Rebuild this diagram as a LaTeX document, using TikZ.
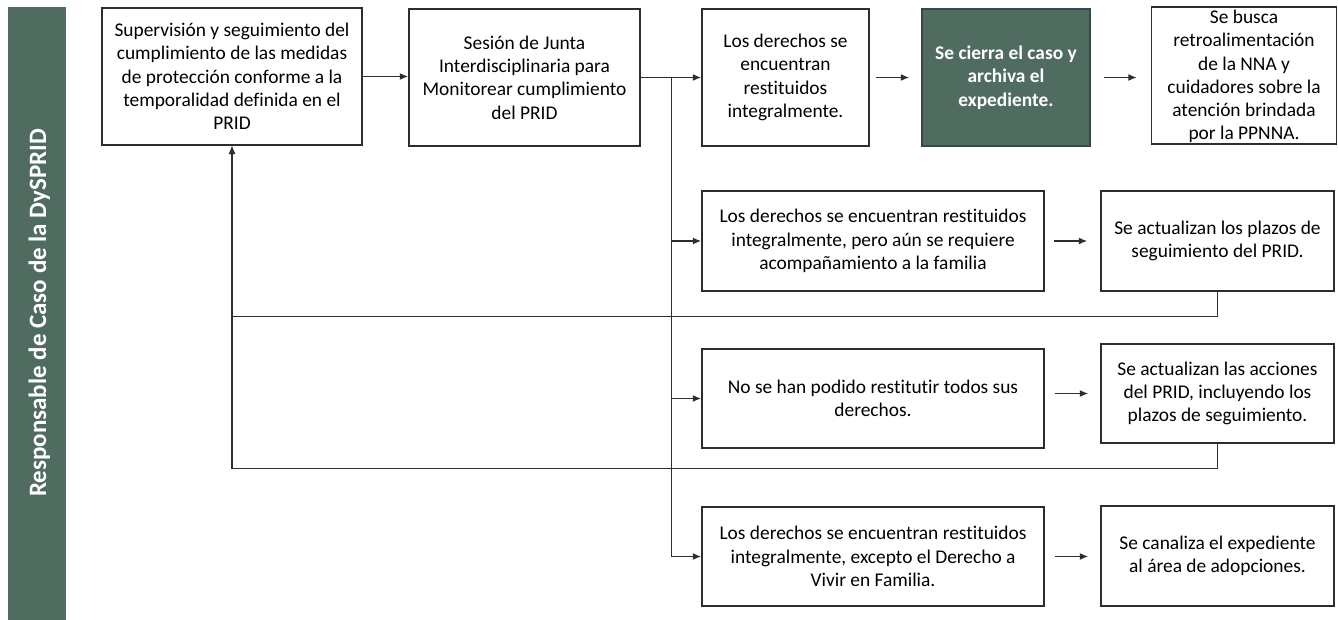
\documentclass[tikz,border=0pt]{standalone}
\usepackage{fontspec}
\setmainfont{Carlito}[Ligatures=NoCommon]
\usetikzlibrary{arrows.meta,calc}
\definecolor{dgreen}{RGB}{80,107,95}
\definecolor{edgec}{RGB}{45,45,45}
\definecolor{darkedge}{RGB}{55,70,80}
\begin{document}
\begin{tikzpicture}[x=1pt,y=-1pt,
  box/.style={draw=edgec,line width=1.4pt,inner sep=0pt,align=center,fill=white,
    font=\fontsize{19.4}{23.3}\selectfont},
  plaintext/.style={inner sep=0pt,align=center,font=\fontsize{19.4}{23.3}\selectfont},
  conn/.style={draw=edgec,line width=1.5pt},
  arr/.style={conn,-{Latex[length=8.5pt,width=7pt]}}]
\useasboundingbox (0,0) rectangle (1338,620);
% lane bar
\fill[dgreen] (8,7) rectangle (66,620);
\node[rotate=90,anchor=base,text=white,inner sep=0pt,
  font=\fontsize{25}{30}\selectfont\bfseries] (lane) at (46,313)
  {Responsable de Caso de la DySPRID};
% boxes
\node[box,minimum width=260pt,minimum height=137pt] (b1) at (232,76.5)
  {Supervisión y seguimiento del\\cumplimiento de las medidas\\de protección conforme a la\\temporalidad definida en el\\PRID};
\node[box,minimum width=231pt,minimum height=137pt] (b2) at (524.5,77.5)
  {Sesión de Junta\\Interdisciplinaria para\\Monitorear cumplimiento\\del PRID};
\node[box,minimum width=167pt,minimum height=137pt] (b3) at (785.5,77.5)
  {Los derechos se\\encuentran\\restituidos\\integralmente.};
\node[box,fill=dgreen,draw=darkedge,text=white,minimum width=168pt,minimum height=137pt,
  font=\fontsize{19.4}{23.3}\selectfont\bfseries] (b4) at (1006,77.5)
  {Se cierra el caso y\\archiva el\\expediente.};
\node[box,minimum width=185pt,minimum height=137pt] (b5) at (1244,75.5) {};
\node[plaintext] (b5t) at (1244,76.5)
  {Se busca\\retroalimentación\\de la NNA y\\cuidadores sobre la\\atención brindada\\por la PPNNA.};
\node[box,minimum width=342pt,minimum height=100pt] (b6) at (873,241)
  {Los derechos se encuentran restituidos\\integralmente, pero aún se requiere\\acompañamiento a la familia};
\node[box,minimum width=233pt,minimum height=100pt] (b7) at (1217.5,241)
  {Se actualizan los plazos de\\seguimiento del PRID.};
\node[box,minimum width=342pt,minimum height=99pt] (b8) at (873,398.5)
  {No se han podido restitutir todos sus\\derechos.};
\node[box,minimum width=233pt,minimum height=99pt] (b9) at (1217.5,393.5)
  {Se actualizan las acciones\\del PRID, incluyendo los\\plazos de seguimiento.};
\node[box,minimum width=342pt,minimum height=99pt] (b10) at (873,556.5)
  {Los derechos se encuentran restituidos\\integralmente, excepto el Derecho a\\Vivir en Familia.};
\node[box,minimum width=233pt,minimum height=100pt] (b11) at (1217.5,556)
  {Se canaliza el expediente\\al área de adopciones.};
% connectors
\draw[arr] (b1.east) -- (b1.east -| b2.west);
\coordinate (J) at ($(b2.east)+(31,0)$);
\draw[arr] (b2.east) -- (b3.west);
\draw[conn] (J) -- (J |- b10.west);
\draw[arr] (J |- b6.west) -- (b6.west);
\draw[arr] (J |- b8.west) -- (b8.west);
\draw[arr] (J |- b10.west) -- (b10.west);
\draw[arr,shorten <=6pt,shorten >=12pt] (b3.east) -- (b4.west);
\draw[arr,shorten <=13pt,shorten >=14pt] (b4.east) -- (b4.east -| b5.west);
\draw[arr,shorten <=9pt,shorten >=13pt] (b6.east) -- (b7.west);
\draw[arr,shorten <=10pt,shorten >=12pt] (b8.east |- b9.west) -- (b9.west);
\draw[arr,shorten <=10pt,shorten >=12pt] (b10.east) -- (b10.east -| b11.west);
\draw[arr] (b7.south) -- ++(0,25) -| (b1.south);
\draw[arr] (b9.south) -- ++(0,25) -| (b1.south);
\end{tikzpicture}
\end{document}
